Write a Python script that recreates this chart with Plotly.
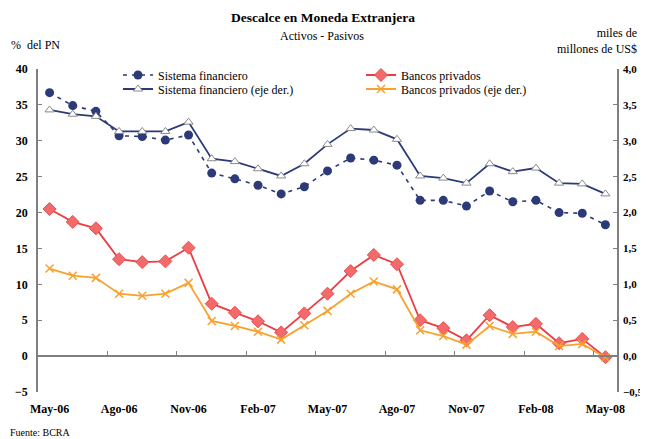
import plotly.graph_objects as go

months = ["May-06", "Jun-06", "Jul-06", "Ago-06", "Sep-06", "Oct-06", "Nov-06", "Dic-06",
          "Ene-07", "Feb-07", "Mar-07", "Abr-07", "May-07", "Jun-07", "Jul-07", "Ago-07",
          "Sep-07", "Oct-07", "Nov-07", "Dic-07", "Ene-08", "Feb-08", "Mar-08", "Abr-08", "May-08"]

sistema_pn = [36.7, 34.9, 34.1, 30.7, 30.6, 30.1, 30.8, 25.5, 24.7, 23.8, 22.6, 23.6, 25.8,
              27.6, 27.3, 26.6, 21.7, 21.7, 20.9, 23.0, 21.5, 21.7, 20.0, 19.9, 18.3]
sistema_usd = [3.43, 3.37, 3.34, 3.13, 3.13, 3.13, 3.26, 2.75, 2.71, 2.61, 2.51, 2.68, 2.95,
               3.17, 3.15, 3.02, 2.51, 2.48, 2.41, 2.68, 2.57, 2.62, 2.41, 2.40, 2.26]
privados_pn = [20.5, 18.7, 17.8, 13.5, 13.1, 13.2, 15.1, 7.3, 6.05, 4.85, 3.3, 5.95, 8.7,
               11.85, 14.1, 12.8, 5.0, 3.9, 2.2, 5.7, 4.05, 4.5, 1.8, 2.4, -0.15]
privados_usd = [1.22, 1.12, 1.09, 0.87, 0.84, 0.87, 1.02, 0.49, 0.42, 0.34, 0.23, 0.43, 0.63,
                0.87, 1.04, 0.93, 0.36, 0.28, 0.16, 0.42, 0.31, 0.34, 0.14, 0.17, -0.02]

label_months = months[::3]
boundaries = [i * 3 + 2.5 for i in range(8)]

NAVY = "#2D3A78"
RED = "#EE3C44"
RED_FILL = "#F26A6A"
ORANGE = "#F9A12E"
AXIS = "#7F7F7F"
FONT = "Liberation Serif"

# the page body has an 8px margin, so the figure is drawn 8px smaller and offset
OFF = 8
FIG_W, FIG_H = 648 - OFF, 439 - OFF
PLOT_TOP, PLOT_BOTTOM = 69, 392          # page pixels of y=40 and y=-5
ML, MR = 38 - OFF, 31
MT = PLOT_TOP - OFF
MB = FIG_H - (PLOT_BOTTOM - OFF)

fig = go.Figure()

fig.add_trace(go.Scatter(
    x=months, y=sistema_pn, name="Sistema financiero", legend="legend",
    mode="lines+markers",
    line=dict(color=NAVY, width=1.6, dash="4px,5px"),
    marker=dict(symbol="circle", size=9, color=NAVY),
))
fig.add_trace(go.Scatter(
    x=months, y=sistema_usd, name="Sistema financiero (eje der.)", legend="legend2",
    yaxis="y2", mode="lines+markers",
    line=dict(color=NAVY, width=1.8),
    marker=dict(symbol="triangle-up", size=8, color="white",
                line=dict(color="#8A8A8A", width=1)),
))
fig.add_trace(go.Scatter(
    x=months, y=privados_pn, name="Bancos privados", legend="legend",
    mode="lines+markers",
    line=dict(color=RED, width=1.8),
    marker=dict(symbol="diamond", size=10, color=RED_FILL,
                line=dict(color="#E85050", width=1)),
))
fig.add_trace(go.Scatter(
    x=months, y=privados_usd, name="Bancos privados (eje der.)", legend="legend2",
    yaxis="y2", mode="lines+markers",
    line=dict(color=ORANGE, width=1.8),
    marker=dict(symbol="x-thin-open", size=8, color=ORANGE,
                line=dict(color=ORANGE, width=1.5)),
))

# helper trace so the zero-level category axis (ticks between categories) is drawn
fig.add_trace(go.Scatter(
    x=boundaries, y=[0] * len(boundaries), xaxis="x2", mode="markers",
    marker=dict(opacity=0), showlegend=False, hoverinfo="skip",
))

ymin, ymax = -5, 40
zero_pos = (0 - ymin) / (ymax - ymin)

plot_w = FIG_W - ML - MR
plot_h = FIG_H - MT - MB

def px_x(px):
    return (px - OFF - ML) / plot_w

def px_y(py):
    return (FIG_H - MB - (py - OFF)) / plot_h

legend_style = dict(orientation="h", x=px_x(118), xanchor="left", yanchor="middle",
                    entrywidth=198, entrywidthmode="pixels",
                    font=dict(family=FONT, size=12, color="black"),
                    bgcolor="rgba(0,0,0,0)", tracegroupgap=0)

fig.update_layout(
    width=FIG_W, height=FIG_H,
    margin=dict(l=ML, r=MR, t=MT, b=MB, autoexpand=False),
    paper_bgcolor="white", plot_bgcolor="white",
    separators=", ",
    font=dict(family=FONT, size=12, color="black"),
    title=dict(text="<b>Descalce en Moneda Extranjera</b>", x=px_x(323), xref="paper",
               xanchor="center", y=1 - (17 - OFF) / FIG_H, yref="container",
               yanchor="middle", font=dict(family=FONT, size=13.5, color="black")),
    showlegend=True,
    legend=dict(y=px_y(75), **legend_style),
    legend2=dict(y=px_y(89), **legend_style),
    xaxis=dict(type="category", categoryorder="array", categoryarray=months,
               range=[-0.5, 24.5], showline=False, showgrid=False, zeroline=False,
               ticks="", tickvals=label_months, ticktext=label_months,
               tickfont=dict(family=FONT, size=12, color="black", weight="bold"),
               ticklabelstandoff=8, fixedrange=True, automargin=False),
    xaxis2=dict(overlaying="x", anchor="free", position=zero_pos, range=[-0.5, 24.5],
                showline=True, linecolor=AXIS, linewidth=1.5, showgrid=False,
                zeroline=False, ticks="inside", tickvals=boundaries, ticklen=4,
                tickcolor=AXIS, tickwidth=1.2, showticklabels=False, automargin=False),
    yaxis=dict(range=[ymin, ymax], dtick=5, tick0=0, showline=True, linecolor=AXIS,
               linewidth=1.5, ticks="inside", ticklen=4, tickcolor=AXIS, tickwidth=1.2,
               showgrid=False, zeroline=False, automargin=False,
               tickfont=dict(family=FONT, size=12, color="black", weight="bold"),
               ticklabelstandoff=6),
    yaxis2=dict(range=[ymin / 10, ymax / 10], dtick=0.5, tick0=0, overlaying="y",
                side="right", tickformat=".1f", showline=True, linecolor=AXIS,
                linewidth=1.5, ticks="inside", ticklen=4, tickcolor=AXIS, tickwidth=1.2,
                showgrid=False, zeroline=False, automargin=False,
                tickfont=dict(family=FONT, size=11, color="black", weight="bold"),
                ticklabelstandoff=2),
)

fig.add_annotation(text="Activos - Pasivos", x=px_x(322), y=px_y(36), xref="paper", yref="paper",
                   showarrow=False, xanchor="center", yanchor="middle",
                   font=dict(family=FONT, size=12, color="black"))
fig.add_annotation(text="%  del PN", x=px_x(9), y=px_y(45), xref="paper", yref="paper",
                   showarrow=False, xanchor="left", yanchor="middle",
                   font=dict(family=FONT, size=12, color="black"))
fig.add_annotation(text="miles de<br>millones de US$", x=px_x(639), y=px_y(41), xref="paper",
                   yref="paper", showarrow=False, xanchor="right", yanchor="middle",
                   align="right", font=dict(family=FONT, size=12, color="black"))
fig.add_annotation(text="Fuente: BCRA", x=px_x(8), y=px_y(432), xref="paper", yref="paper",
                   showarrow=False, xanchor="left", yanchor="middle",
                   font=dict(family=FONT, size=10, color="black"))

fig.write_html("out.html")
